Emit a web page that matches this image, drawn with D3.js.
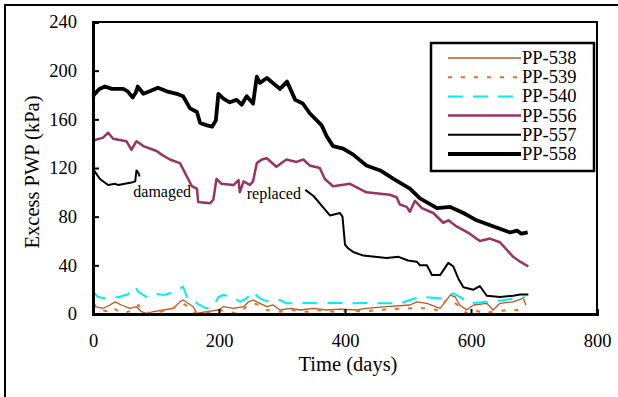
<!DOCTYPE html>
<html><head><meta charset="utf-8">
<script src="https://cdn.jsdelivr.net/npm/d3@7"></script>
<style>body{margin:0;background:#fff}svg{display:block}</style>
</head><body><svg id="c" width="618" height="397"></svg>
<script>
const FONT = "Liberation Serif";
const xTicks = [0,200,400,600,800];
const yTicks = [0,40,80,120,160,200,240];
const seriesNames = ["PP-538","PP-539","PP-540","PP-556","PP-557","PP-558"];

const pp538 = [[0,6],[3,6],[16,4.7],[27,7.4],[35,10],[45,7.4],[59,4.7],[69,6],[77,1.9],[85,0.5],[96,1.9],[112,3.3],[128,4.7],[138,10],[143,11.5],[151,8.8],[159,6],[165,0.5],[180,1.9],[199,3.3],[207,6],[223,4.7],[239,6],[247,10],[254,11.5],[265,8.8],[276,6],[286,7.4],[297,3.3],[313,4.7],[329,3.3],[350,4.7],[371,3.3],[392,4],[419,3.3],[434,4.7],[466,6],[503,7.4],[514,10],[530,8.8],[551,4.7],[567,15.6],[575,14],[582,7.4],[593,3.3],[604,7.4],[625,8.8],[635,3.3],[646,8.8],[667,10],[683,13],[687,7.4]];
const pp539 = [[0,8.8],[11,3.3],[27,1.9],[32,4.7],[48,0.5],[64,3.3],[72,7.4],[80,3.3],[90,0.5],[106,1.9],[122,3.3],[135,7.4],[143,8.8],[154,4.7],[162,0.5],[191,1.9],[202,3.3],[212,1.9],[228,0.5],[244,6],[254,8.8],[265,7.4],[276,3.3],[297,1.9],[318,3.3],[339,1.9],[360,3.3],[381,1.9],[403,3.3],[429,1.9],[450,3.3],[503,4.7],[530,4.7],[546,3.3],[561,11.5],[572,10],[582,6],[593,0.5],[606,3.3],[620,0.5],[635,1.9],[657,3.3],[686,3.3]];
const pp540 = [[0,18.3],[8,14],[19,12.9],[32,14],[40,13.7],[55,16],[67,22.4],[72,18.3],[85,14],[96,17],[112,15.6],[122,17],[133,19.7],[143,22.4],[149,14],[159,12.9],[165,8.8],[180,4.7],[191,6],[199,14],[207,15.6],[223,14],[233,10],[244,12.9],[254,18.3],[262,14],[270,11.5],[284,10],[297,11.5],[307,8.8],[323,8.8],[339,9.3],[360,8.8],[381,9.3],[403,8.8],[434,9],[487,8.8],[519,14],[551,13],[572,17],[582,14],[598,8.8],[625,10],[646,11],[673,13],[686,13.7]];
const pp556 = [[0,142],[3,143],[16,145],[24,149],[32,144],[53,142],[61,135],[69,142],[80,138],[101,134],[109,131],[122,127],[138,124],[149,113],[157,105],[165,103],[167,92],[186,91],[191,94],[196,111],[204,107],[223,106],[231,110],[233,100],[239,109],[249,106],[254,109],[260,124],[268,127],[276,128],[291,121],[307,127],[323,125],[334,127],[344,122],[360,120],[368,111],[381,105],[408,107],[434,100],[471,98],[482,96],[487,90],[498,88],[503,84],[511,93],[522,87],[540,83],[556,75],[564,77],[577,72],[598,66],[614,60],[630,62],[646,59],[667,47],[678,43],[691,39]];
const pp557 = [[0,118],[3,117],[11,111],[24,106],[35,107],[40,106],[61,108],[67,109],[69,118],[72,116],[74,113],[null,null],[337,102],[350,97],[363,89],[376,81],[392,83],[396,80],[400,57],[405,54],[413,51],[429,48],[466,46],[485,47],[500,44],[514,43],[519,40],[530,40],[538,32],[551,32],[564,42],[572,39],[580,29],[588,22],[604,20],[614,23],[625,15],[646,14],[667,15],[678,16],[691,16]];
const pp558 = [[0,179],[3,181],[10,185],[19,187],[30,185],[48,185],[55,183],[63,178],[68,182],[71,187],[80,181],[90,183],[103,186],[117,183],[133,181],[143,179],[154,169],[165,166],[170,157],[181,155],[189,154],[195,159],[199,181],[207,177],[217,174],[228,176],[236,172],[244,179],[254,173],[260,195],[265,190],[276,194],[297,185],[308,191],[321,176],[333,173],[344,165],[363,155],[371,146],[381,138],[397,136],[413,131],[434,122],[456,118],[477,111],[503,103],[519,95],[546,87],[567,88],[588,83],[609,77],[625,74],[646,70],[662,67],[673,68.5],[680,66],[690,67]];
const annotations = [{text:"damaged", day:64, val:96},{text:"replaced", day:244, val:94.5}];

const styles = [
  {data:pp538, color:"#b4582a", w:1.3, dash:null},
  {data:pp539, color:"#ff6a10", w:2, dash:"4,9"},
  {data:pp540, color:"#00f0f0", w:2, dash:"15,10"},
  {data:pp556, color:"#993366", w:2.5, dash:null},
  {data:pp557, color:"#000", w:2, dash:null},
  {data:pp558, color:"#000", w:3.8, dash:null}
];

const svg = d3.select("#c");
const m = {l:93, t:22, r:597, b:314};
const x = d3.scaleLinear().domain([0,800]).range([m.l, m.r]);
const y = d3.scaleLinear().domain([0,240]).range([m.b, m.t]);

svg.append("rect").attr("x",5).attr("y",5).attr("width",640).attr("height",420)
  .attr("fill","none").attr("stroke","#000").attr("stroke-width",2);
svg.append("rect").attr("x",m.l).attr("y",m.t).attr("width",m.r-m.l).attr("height",m.b-m.t)
  .attr("fill","none").attr("stroke","#000").attr("stroke-width",2);

const line = d3.line().defined(d=>d[0]!==null).x(d=>x(d[0])).y(d=>y(d[1]));
const gl = svg.append("g");
styles.forEach(s=>{
  gl.append("path").attr("d",line(s.data)).attr("fill","none")
    .attr("stroke",s.color).attr("stroke-width",s.w)
    .attr("stroke-dasharray",s.dash).attr("stroke-linejoin","round");
});

const ya = d3.axisLeft(y).tickValues(yTicks).tickSize(-6).tickPadding(16).tickFormat(d3.format("d"));
const yg = svg.append("g").attr("transform",`translate(${m.l},0)`).call(ya);
const xa = d3.axisBottom(x).tickValues(xTicks).tickSize(-5).tickPadding(20).tickFormat(d3.format("d"));
const xg = svg.append("g").attr("transform",`translate(0,${m.b})`).call(xa);
[yg,xg].forEach(g=>{
  g.attr("font-family",FONT).attr("font-size",18.5);
  g.select(".domain").attr("stroke","#000").attr("stroke-width",3);
  g.selectAll(".tick line").attr("stroke","#000").attr("stroke-width",2);
  g.selectAll(".tick text").attr("fill","#000");
});
xg.selectAll(".tick line").filter(d=>d===0||d===800).remove();
yg.selectAll(".tick line").filter(d=>d===0||d===240).remove();

svg.append("text").attr("x",348).attr("y",371).attr("text-anchor","middle")
  .attr("font-family",FONT).attr("font-size",20.5).text("Time (days)");
svg.append("text").attr("transform","translate(39,172) rotate(-90)").attr("text-anchor","middle")
  .attr("font-family",FONT).attr("font-size",20.5).text("Excess PWP (kPa)");

annotations.forEach(a=>{
  svg.append("text").attr("x",x(a.day)).attr("y",y(a.val))
    .attr("font-family",FONT).attr("font-size",16).text(a.text);
});

const lg = svg.append("g");
lg.append("rect").attr("x",431).attr("y",43).attr("width",163).attr("height",128)
  .attr("fill","#fff").attr("stroke","#000").attr("stroke-width",2.5);
const rowY = d3.scaleLinear().domain([0,5]).range([58,154]);
styles.forEach((s,i)=>{
  const yy = rowY(i);
  lg.append("line").attr("x1",448).attr("x2",521).attr("y1",yy).attr("y2",yy)
    .attr("stroke",s.color).attr("stroke-width",s.w).attr("stroke-dasharray",s.dash);
  lg.append("text").attr("x",522).attr("y",yy+6)
    .attr("font-family",FONT).attr("font-size",18.5).text(seriesNames[i]);
});
</script></body></html>
